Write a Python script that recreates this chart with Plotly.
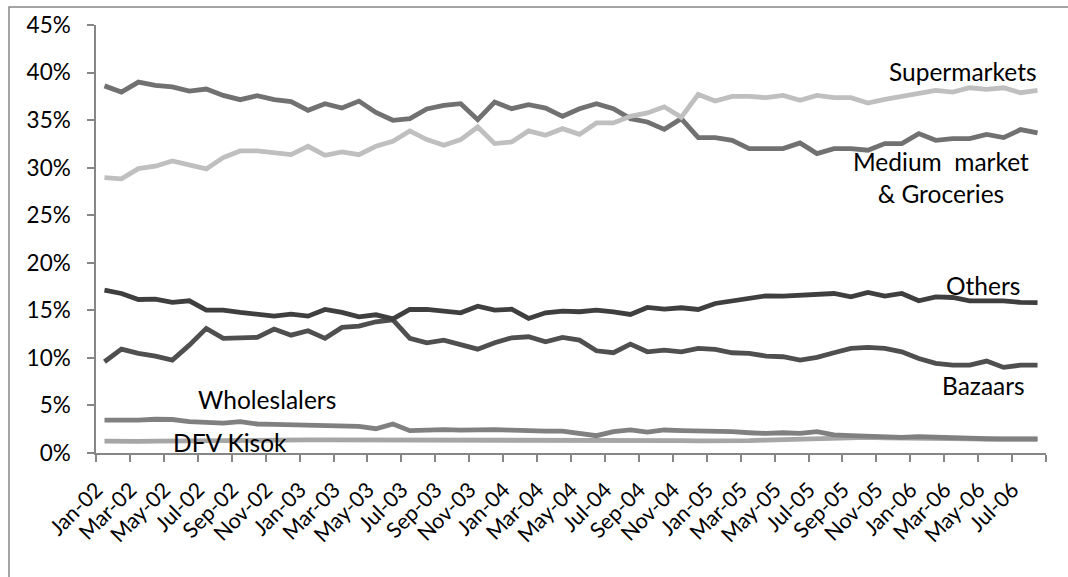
import plotly.graph_objects as go

# Monthly share of sales by retail channel, Jan-2002 .. Aug-2006 (percent)
months = [
    "Jan-02", "Feb-02", "Mar-02", "Apr-02", "May-02", "Jun-02", "Jul-02", "Aug-02", "Sep-02", "Oct-02", "Nov-02", "Dec-02",
    "Jan-03", "Feb-03", "Mar-03", "Apr-03", "May-03", "Jun-03", "Jul-03", "Aug-03", "Sep-03", "Oct-03", "Nov-03", "Dec-03",
    "Jan-04", "Feb-04", "Mar-04", "Apr-04", "May-04", "Jun-04", "Jul-04", "Aug-04", "Sep-04", "Oct-04", "Nov-04", "Dec-04",
    "Jan-05", "Feb-05", "Mar-05", "Apr-05", "May-05", "Jun-05", "Jul-05", "Aug-05", "Sep-05", "Oct-05", "Nov-05", "Dec-05",
    "Jan-06", "Feb-06", "Mar-06", "Apr-06", "May-06", "Jun-06", "Jul-06", "Aug-06",
]

supermarkets = [
    28.96, 28.82, 29.90, 30.15, 30.70, 30.25, 29.87, 31.06, 31.76, 31.76, 31.62, 31.37,
    32.25, 31.30, 31.65, 31.37, 32.25, 32.77, 33.86, 32.95, 32.35, 32.95, 34.28, 32.53,
    32.70, 33.86, 33.40, 34.10, 33.50, 34.70, 34.70, 35.40, 35.75, 36.40, 35.30, 37.70,
    37.00, 37.50, 37.50, 37.36, 37.60, 37.08, 37.60, 37.36, 37.36, 36.80, 37.18, 37.50,
    37.88, 38.13, 37.95, 38.40, 38.24, 38.40, 37.88, 38.13,
]

medium_groceries = [
    38.60, 37.95, 39.00, 38.66, 38.50, 38.06, 38.27, 37.60, 37.15, 37.57, 37.15, 36.94,
    36.03, 36.73, 36.27, 37.00, 35.80, 34.98, 35.15, 36.17, 36.55, 36.73, 35.05, 36.90,
    36.20, 36.62, 36.27, 35.40, 36.20, 36.73, 36.20, 35.15, 34.80, 34.03, 35.15, 33.16,
    33.16, 32.88, 32.00, 32.00, 32.00, 32.60, 31.48, 32.00, 32.00, 31.83, 32.53, 32.53,
    33.58, 32.88, 33.05, 33.05, 33.50, 33.16, 34.00, 33.65,
]

others = [
    17.12, 16.77, 16.14, 16.17, 15.83, 16.00, 15.02, 15.02, 14.78, 14.63, 14.39, 14.60,
    14.39, 15.09, 14.78, 14.32, 14.53, 14.10, 15.09, 15.09, 14.95, 14.74, 15.44, 15.02,
    15.12, 14.15, 14.74, 14.92, 14.85, 15.02, 14.85, 14.57, 15.30, 15.12, 15.27, 15.09,
    15.72, 15.97, 16.18, 16.53, 16.50, 16.55, 16.67, 16.77, 16.42, 16.88, 16.50, 16.77,
    16.00, 16.42, 16.35, 16.00, 16.00, 16.00, 15.83, 15.80,
]

bazaars = [
    9.59, 10.92, 10.47, 10.19, 9.77, 11.34, 13.10, 12.05, 12.11, 12.15, 13.03, 12.39,
    12.85, 12.05, 13.20, 13.34, 13.80, 14.00, 12.05, 11.59, 11.87, 11.45, 10.92, 11.59,
    12.11, 12.22, 11.69, 12.15, 11.87, 10.75, 10.54, 11.45, 10.64, 10.82, 10.64, 11.00,
    10.89, 10.54, 10.47, 10.19, 10.12, 9.77, 10.05, 10.54, 11.00, 11.10, 11.00, 10.64,
    9.94, 9.42, 9.24, 9.24, 9.66, 9.00, 9.24, 9.24,
]

wholesalers = [
    3.45, 3.42, 3.45, 3.55, 3.52, 3.30, 3.25, 3.15, 3.30, 3.05, 3.00, 2.95,
    2.90, 2.85, 2.85, 2.80, 2.55, 3.05, 2.35, 2.45, 2.45, 2.40, 2.45, 2.45,
    2.40, 2.30, 2.30, 2.30, 2.00, 1.82, 2.24, 2.42, 2.20, 2.42, 2.35, 2.35,
    2.35, 2.24, 2.13, 2.06, 2.13, 2.06, 2.24, 1.90, 1.82, 1.75, 1.65, 1.65,
    1.72, 1.65, 1.55, 1.55, 1.50, 1.47, 1.44, 1.47,
]

dfv_kiosk = [
    1.25, 1.20, 1.22, 1.25, 1.25, 1.28, 1.30, 1.30, 1.32, 1.35, 1.35, 1.35,
    1.37, 1.38, 1.38, 1.40, 1.42, 1.42, 1.38, 1.40, 1.42, 1.38, 1.40, 1.42,
    1.40, 1.40, 1.38, 1.40, 1.40, 1.35, 1.30, 1.35, 1.35, 1.35, 1.30, 1.28,
    1.25, 1.28, 1.30, 1.35, 1.40, 1.45, 1.55, 1.60, 1.62, 1.65, 1.60, 1.60,
    1.55, 1.55, 1.50, 1.50, 1.45, 1.45, 1.45, 1.45,
]

y_ticks = [0, 5, 10, 15, 20, 25, 30, 35, 40, 45]

series = [
    ("DFV Kisok", dfv_kiosk, "#a6a6a6"),
    ("Wholeslalers", wholesalers, "#808080"),
    ("Bazaars", bazaars, "#4f4f4f"),
    ("Others", others, "#3f3f3f"),
    ("Medium market & Groceries", medium_groceries, "#717171"),
    ("Supermarkets", supermarkets, "#bfbfbf"),
]

idx = list(range(len(months)))

fig = go.Figure()
for name, vals, color in series:
    fig.add_trace(go.Scatter(
        x=idx, y=vals, mode="lines", name=name,
        line=dict(color=color, width=4.8),
        hoverinfo="skip",
    ))

font_family = "Lato, 'Open Sans', sans-serif"
axis_color = "#868686"

# Category labels every second month; tick marks sit between categories
label_pos = idx[::2]
label_txt = months[::2]
tick_between = [i - 0.5 for i in range(0, len(months) + 1, 2)]

fig.update_layout(
    width=1068, height=577,
    margin=dict(l=96, r=22, t=25, b=124),
    paper_bgcolor="white", plot_bgcolor="white",
    showlegend=False,
    font=dict(family=font_family, color="black", size=21),
    xaxis=dict(
        range=[-0.5, len(months) - 0.5],
        tickmode="array", tickvals=label_pos, ticktext=label_txt,
        tickangle=-45, ticks="", showgrid=False, zeroline=False,
        showline=True, linecolor=axis_color, linewidth=1.5,
        tickfont=dict(size=21.5), ticklabelstandoff=14, ticklabelshift=-8,
        minor=dict(tickmode="array", tickvals=tick_between, ticks="outside",
                   ticklen=7, tickcolor=axis_color, tickwidth=1.5, showgrid=False),
    ),
    yaxis=dict(
        range=[0, 45], tickmode="array", tickvals=y_ticks,
        ticktext=[f"{v}%" for v in y_ticks],
        ticks="outside", ticklen=7, tickcolor=axis_color, tickwidth=1.5,
        showgrid=False, zeroline=False,
        showline=True, linecolor=axis_color, linewidth=1.5,
        tickfont=dict(size=22.5), ticklabelstandoff=12,
    ),
)

# Outer chart frame
fig.add_shape(type="rect", xref="paper", yref="paper",
              x0=(9 - 96) / 950, x1=(1080 - 96) / 950,
              y0=(453 - 590) / 428, y1=(453 - 7) / 428,
              line=dict(color=axis_color, width=1.5), fillcolor="rgba(0,0,0,0)",
              layer="below")

labels = [
    ("Supermarkets", 50.6, 40.1),
    ("Medium\u00a0 market<br>& Groceries", 49.3, 29.0),
    ("Others", 51.8, 17.65),
    ("Bazaars", 51.8, 7.1),
    ("Wholeslalers", 9.6, 5.65),
    ("DFV Kisok", 7.4, 1.15),
]
for text, x, y in labels:
    fig.add_annotation(x=x, y=y, xref="x", yref="y", text=text, showarrow=False,
                       font=dict(size=24.5, family=font_family, color="black"),
                       xanchor="center", yanchor="middle", align="center")

fig.write_html("out.html")
